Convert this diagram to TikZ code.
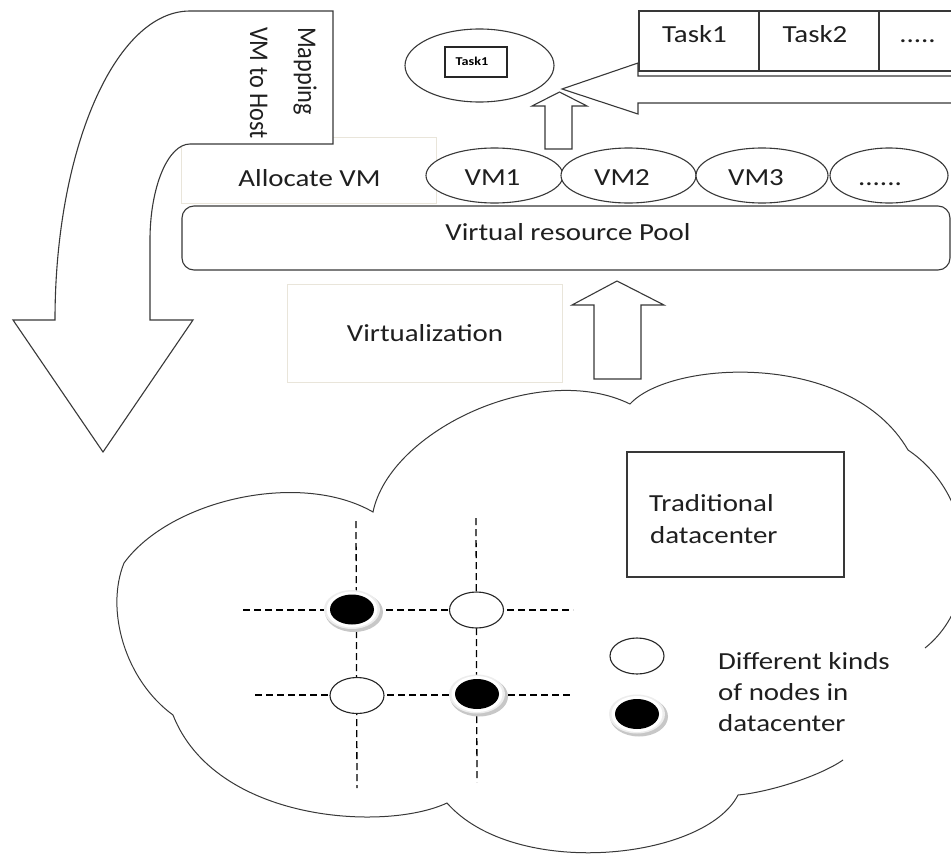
\documentclass[tikz,border=0pt]{standalone}
\usepackage{fontspec}
\setmainfont{Carlito}[FakeStretch=1.18]
\newfontfamily\sidefont{Carlito}[FakeStretch=0.9]
\usetikzlibrary{shapes.geometric}
\pgfdeclarelayer{paper}
\pgfdeclarelayer{under}
\pgfsetlayers{paper,under,main}

\begin{document}
\begin{tikzpicture}[x=1pt,y=-1pt,
  ink/.style={draw=black!78, line width=1.1pt},
  pale/.style={draw={rgb,255:red,233;green,229;blue,218}, line width=1pt},
  txt/.style={inner sep=0pt, text=black!88, font=\fontsize{24.5}{30}\selectfont},
  sidetxt/.style={inner sep=0pt, text=black!88, font=\sidefont\fontsize{27}{30}\selectfont},
  vmell/.style={ink, ellipse, fill=white, inner sep=0pt, minimum height=55pt},
  cell/.style={ink, fill=white, inner sep=0pt, minimum width=120pt, minimum height=60pt},
  wire/.style={draw=black, line width=1.3pt, dash pattern=on 7pt off 4pt},
  opennode/.style={ellipse, inner sep=0pt, minimum width=54pt, minimum height=36pt, fill=white, draw=black!85, line width=1.1pt},
  fullnode/.style={ellipse, inner sep=0pt, minimum width=44pt, minimum height=30pt, fill=black},
  nodering/.style={ellipse, inner sep=0pt, minimum width=56pt, minimum height=39pt, fill=black!7},
  nodeshade/.style={ellipse, inner sep=0pt, minimum width=58pt, minimum height=40pt, fill=black!22},
  nodegap/.style={ellipse, inner sep=0pt, minimum width=51pt, minimum height=36pt, fill=white},
]
\begin{pgfonlayer}{paper}
  \fill[white] (0,0) rectangle (951,854);
\end{pgfonlayer}
\useasboundingbox (0,0) rectangle (951,854);

% cloud around the physical datacenter (open where the legend sits)
\draw[ink, line width=1pt]
  (843,760) .. controls (820,776) and (770,792) .. (738,795)
  .. controls (705,860) and (515,880) .. (447,803)
  .. controls (385,832) and (215,822) .. (173,715)
  .. controls (125,680) and (105,610) .. (124,563)
  .. controls (170,500) and (300,470) .. (373,512)
  .. controls (390,430) and (540,360) .. (630,404)
  .. controls (670,360) and (850,350) .. (908,450)
  .. controls (975,495) and (985,600) .. (925,648);

% faint text boxes
\node[pale, fill=white, minimum width=255pt, minimum height=66pt, inner sep=0pt] (alloc) at (308.5,170) {};
\node[pale, minimum width=275pt, minimum height=98pt, inner sep=0pt] (virt) at (424.5,333) {};

% resource pool and virtual machines
\node[ink, rounded corners=12pt, minimum width=768pt, minimum height=64pt, inner sep=0pt] (pool) at (566,238) {};
\node[vmell, minimum width=137pt] (vm1) at (494.5,175.5) {};
\node[vmell, minimum width=135pt] (vm2) at (628.5,175.5) {};
\node[vmell, minimum width=132pt] (vm3) at (762,175.5) {};
\node[vmell, minimum width=118pt] (vmx) at (889,175.5) {};

\node[txt, anchor=base] (l-alloc) at (309.5,186) {Allocate VM};
\node[txt, anchor=base] (l-vm1) at (492.5,185) {VM1};
\node[txt, anchor=base] (l-vm2) at (622,185) {VM2};
\node[txt, anchor=base] (l-vm3) at (756,185) {VM3};
\node[txt, anchor=base] (l-vmx) at (880,185) {......};
\node[txt, anchor=base] (l-pool) at (568,240) {Virtual resource Pool};
\node[txt, anchor=base] (l-virt) at (425,341) {Virtualization};

% bent arrow: mapping VMs down to hosts
\draw[ink, fill=white] (333,11) -- (190,11) .. controls (115,11) and (55,150) .. (55,320)
  -- (13,320) -- (103,452) -- (193,320) -- (150,320) -- (150,240)
  .. controls (150,187) and (168,144) .. (190,144) -- (333,144) -- cycle;
\begin{scope}
  \clip (333,11) -- (190,11) .. controls (115,11) and (55,150) .. (55,320)
    -- (13,320) -- (103,452) -- (193,320) -- (150,320) -- (150,240)
    .. controls (150,187) and (168,144) .. (190,144) -- (333,144) -- cycle;
  \node[sidetxt, anchor=base west, rotate=-90] (l-map1) at (298,27) {Mapping};
  \node[sidetxt, anchor=base west, rotate=-90] (l-map2) at (250,27) {VM to Host};
\end{scope}

% task being placed
\node[ink, ellipse, inner sep=0pt, minimum width=149pt, minimum height=73pt] (tq) at (479.5,65.5) {};
\node[draw=black!85, line width=1.5pt, inner sep=0pt, minimum width=62pt, minimum height=30pt] (tqbox) at (476,62) {};
\node[inner sep=0pt, text=black, font=\bfseries\fontsize{12}{12}\selectfont] (tqlbl) at (472,61.5) {Task1};

% incoming task queue arrow
\draw[ink, fill=white] (562,89) -- (638,63) -- (638,76) -- (962,76) -- (962,103) -- (638,103) -- (638,114) -- cycle;
\node[cell] (t1) at (699,41) {};
\node[cell] (t2) at (819,41) {};
\node[cell] (t3) at (939,41) {};
\node[txt, anchor=base] (l-t1) at (694.5,42) {Task1};
\node[txt, anchor=base] (l-t2) at (815,42) {Task2};
\node[txt, anchor=base] (l-t3) at (917.5,42) {.....};

% small up arrow from VMs to task
\draw[ink, fill=white] (545,149) -- (545,106) -- (532,106) -- (559.5,92) -- (587,106) -- (572,106) -- (572,149) -- cycle;

% virtualization arrow
\draw[ink, fill=white] (594,379) -- (594,305) -- (572,305) -- (617,281) -- (664,305) -- (641,305) -- (641,379) -- cycle;

% datacenter nodes
\node[nodeshade] (g11s) at (354,612) {};
\node[nodering] (g11r) at (352,609.5) {};
\node[nodegap] (g11g) at (352,609.5) {};
\node[fullnode] (g11) at (352,609.5) {};
\node[opennode] (g12) at (476.5,610) {};
\node[opennode] (g21) at (357,695.5) {};
\node[nodeshade] (g22s) at (479,696.5) {};
\node[nodering] (g22r) at (477,694) {};
\node[nodegap] (g22g) at (477,694) {};
\node[fullnode] (g22) at (477,694) {};

\coordinate (r1w) at (243,610);
\coordinate (r1e) at (573,610);
\coordinate (r2w) at (255,695);
\coordinate (r2e) at (573,695);
\coordinate (c1n) at (356,521);
\coordinate (c1s) at (357,788);
\coordinate (c2n) at (476,518);
\coordinate (c2s) at (477,782);
\begin{pgfonlayer}{under}
  \draw[wire] (r1w) -- (r1e);
  \draw[wire] (r2w) -- (r2e);
  \draw[wire] (c1n) -- (c1s);
  \draw[wire] (c2n) -- (c2s);
\end{pgfonlayer}

% label box and legend
\node[ink, minimum width=217pt, minimum height=125pt, inner sep=0pt] (trad) at (735.5,514.5) {};
\node[txt, anchor=base west] (l-trad1) at (649,511) {Traditional};
\node[txt, anchor=base west] (l-trad2) at (650,543) {datacenter};

\node[opennode] (lg1) at (637,656) {};
\node[nodeshade] (lg2s) at (639,716.5) {};
\node[nodering] (lg2r) at (637,714) {};
\node[nodegap] (lg2g) at (637,714) {};
\node[fullnode] (lg2) at (637,714) {};
\node[txt, anchor=base west] (l-leg1) at (718,669) {Different kinds};
\node[txt, anchor=base west] (l-leg2) at (718,700) {of nodes in};
\node[txt, anchor=base west] (l-leg3) at (718,731) {datacenter};
\end{tikzpicture}
\end{document}
